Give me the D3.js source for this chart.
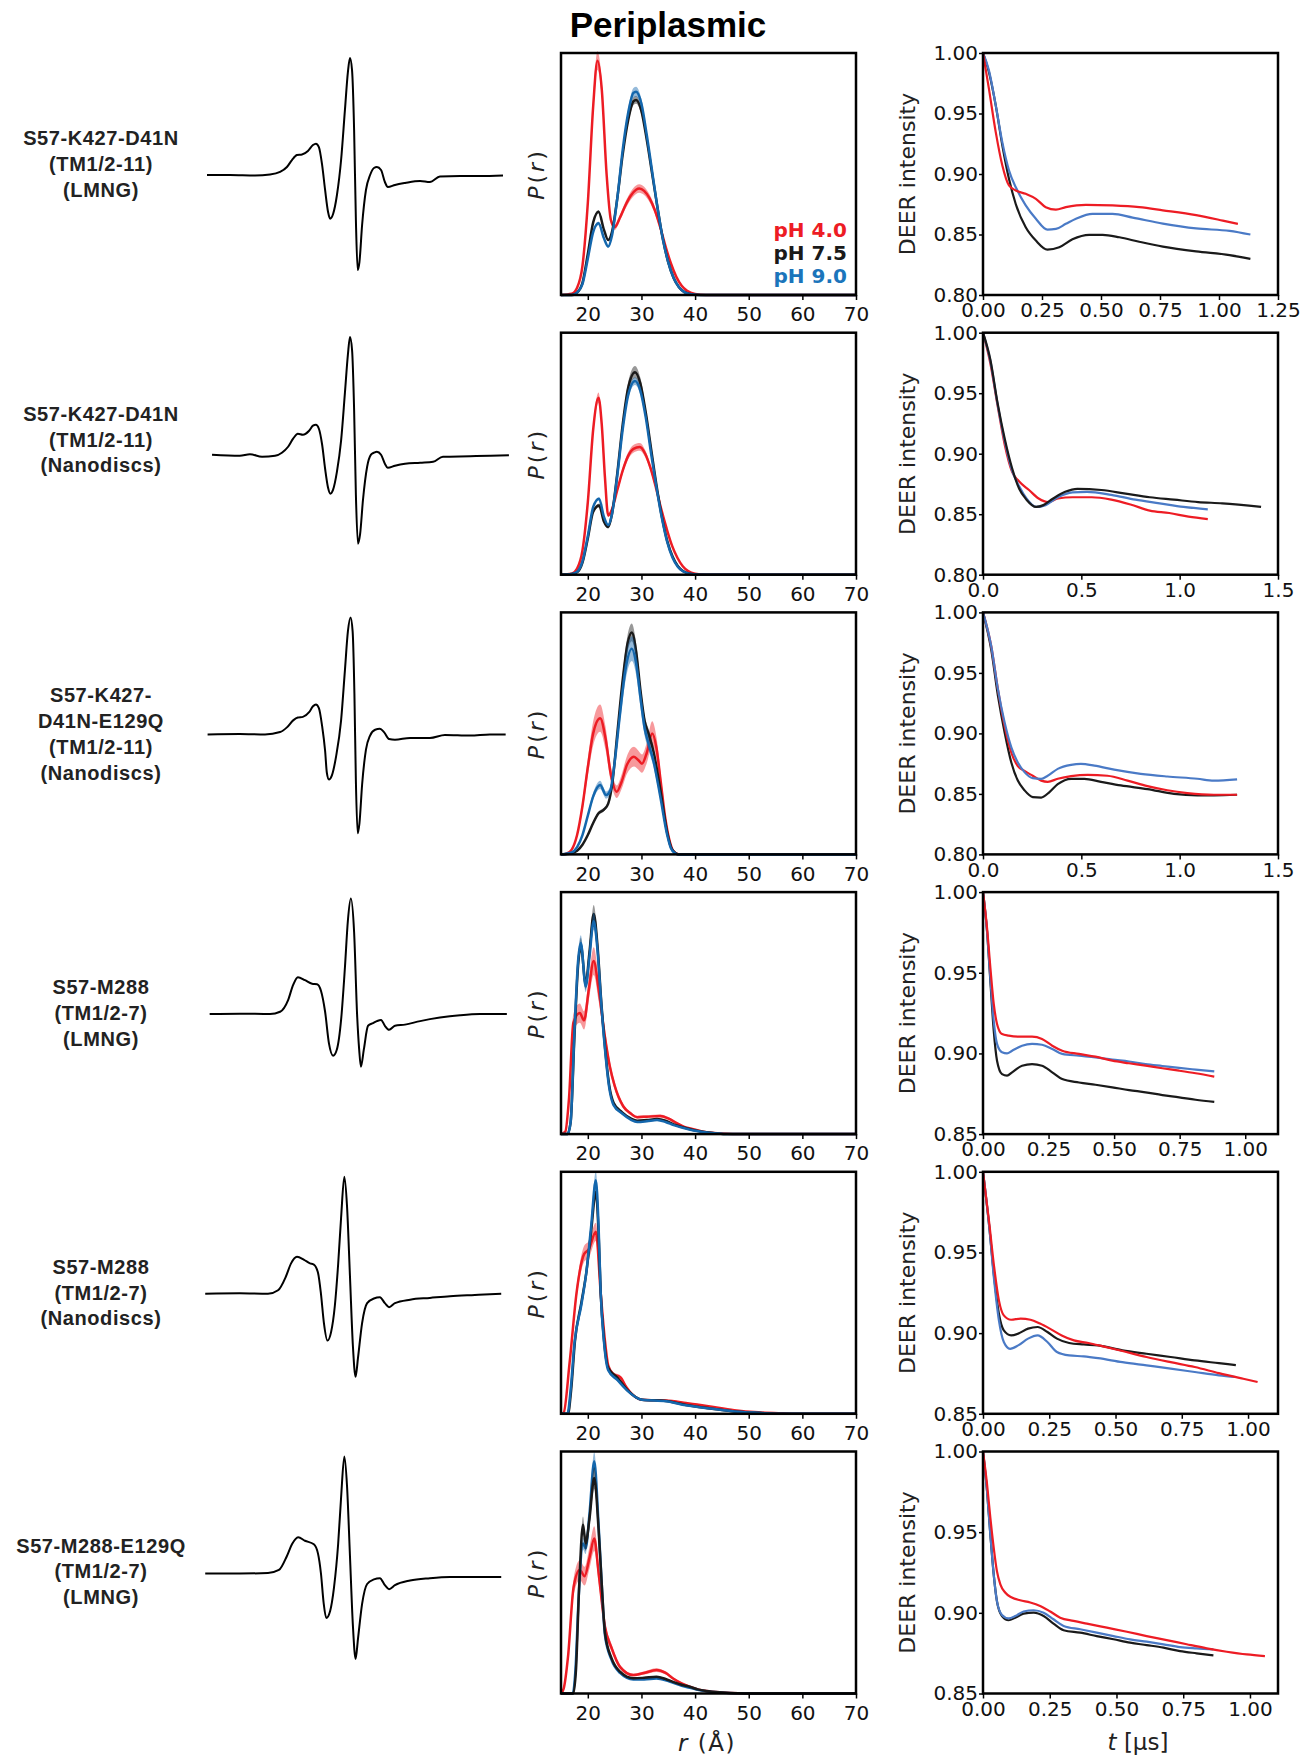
<!DOCTYPE html>
<html lang="en">
<head>
<meta charset="UTF-8">
<title>Periplasmic</title>
<style>
  body { margin: 0; background: #fff; }
  svg { display: block; }
  .tick text { font-family: "DejaVu Sans", sans-serif; font-size: 20px; fill: #111; }
  .tick line { stroke: #000; stroke-width: 1.5; }
</style>
</head>
<body>
<svg id="fig" width="1302" height="1758"></svg>
<script src="https://cdnjs.cloudflare.com/ajax/libs/d3/7.8.5/d3.min.js"></script>
<script>
// ---- row labels ----
var rowLabels = [
  ["S57-K427-D41N", "(TM1/2-11)", "(LMNG)"],
  ["S57-K427-D41N", "(TM1/2-11)", "(Nanodiscs)"],
  ["S57-K427-", "D41N-E129Q", "(TM1/2-11)", "(Nanodiscs)"],
  ["S57-M288", "(TM1/2-7)", "(LMNG)"],
  ["S57-M288", "(TM1/2-7)", "(Nanodiscs)"],
  ["S57-M288-E129Q", "(TM1/2-7)", "(LMNG)"]
];
var phLabels = ["pH 4.0", "pH 7.5", "pH 9.0"];

// ---- cw-EPR spectra: [field (rel. G), normalised amplitude] ----
var epr1 = [[0,0],[7.8,0],[16.2,-0.004],[21.3,0.004],[24.7,0.026],[27,0.068],[28.7,0.128],[30.4,0.171],[32.1,0.175],[34.1,0.205],[35.8,0.256],[36.8,0.268],[37.8,0.239],[38.9,0.085],[39.9,-0.128],[40.9,-0.316],[41.6,-0.373],[42.6,-0.333],[43.9,-0.171],[45.3,0.128],[46.6,0.556],[47.6,0.88],[48.3,1.0],[49,0.897],[49.7,0.385],[50.3,-0.385],[50.9,-0.812],[51.5,-0.744],[52.4,-0.427],[53.7,-0.128],[55.1,0],[56.4,0.06],[57.4,0.068],[58.8,0.043],[60.1,-0.06],[61.1,-0.103],[63.5,-0.085],[66.9,-0.068],[72,-0.051],[75.3,-0.06],[78.7,-0.013],[85.5,-0.009],[92.2,-0.009],[100,-0.004]];
var epr2 = [[1.7,0],[11.1,-0.009],[14.5,0.004],[18.6,-0.017],[23,-0.009],[25.3,0.017],[27.4,0.068],[29.1,0.137],[30.7,0.179],[32.4,0.171],[34.5,0.205],[35.8,0.248],[36.8,0.256],[37.8,0.222],[38.9,0.085],[39.9,-0.12],[40.9,-0.282],[41.7,-0.333],[42.6,-0.299],[43.9,-0.145],[45.3,0.12],[46.6,0.53],[47.6,0.855],[48.3,1.005],[49,0.897],[49.7,0.385],[50.3,-0.342],[51,-0.761],[51.7,-0.684],[52.7,-0.385],[54.1,-0.103],[55.4,0],[56.4,0.017],[57.4,0.026],[58.8,0],[60.1,-0.077],[61.1,-0.111],[63.5,-0.094],[66.9,-0.077],[72,-0.068],[76.4,-0.06],[79.7,-0.017],[88.9,-0.013],[95.6,-0.009],[102,-0.004]];
var epr3 = [[0.2,0],[11.1,0.004],[19.6,0],[24.7,0.02],[27,0.06],[29.1,0.12],[30.7,0.145],[32.4,0.15],[34.5,0.19],[35.8,0.24],[36.8,0.256],[37.8,0.225],[38.9,0.07],[39.9,-0.14],[40.5,-0.33],[41.2,-0.385],[42.2,-0.35],[43.6,-0.19],[45.3,0.12],[46.6,0.55],[47.6,0.88],[48.5,1.0],[49.2,0.88],[49.8,0.35],[50.3,-0.4],[50.9,-0.845],[51.5,-0.76],[52.4,-0.43],[53.7,-0.13],[55.1,-0.01],[56.8,0.04],[58.4,0.048],[59.8,0.02],[61.5,-0.04],[63.5,-0.045],[68.6,-0.03],[75.3,-0.03],[80.4,-0.005],[88.9,-0.01],[95.6,0],[100.9,0]];
var epr4 = [[0.9,0],[11.1,0.004],[21.3,0],[24.7,0.02],[27.4,0.12],[29.1,0.25],[30.7,0.316],[33.1,0.29],[35.5,0.26],[37.2,0.256],[38.5,0.2],[39.9,0.02],[41.2,-0.25],[42.6,-0.355],[43.9,-0.3],[45.3,-0.05],[46.6,0.4],[47.6,0.8],[48.6,0.987],[49.7,0.7],[50.7,0],[51.4,-0.3],[52,-0.45],[53,-0.3],[54.4,-0.1],[56.1,-0.077],[57.4,-0.06],[58.8,-0.05],[60.1,-0.1],[61.5,-0.134],[63.5,-0.1],[66.9,-0.09],[72,-0.06],[78.7,-0.03],[85.5,-0.01],[92.2,0],[101.3,0]];
var epr5 = [[-0.6,0],[11.1,0.004],[20.6,0],[24,0.03],[26.7,0.15],[28.4,0.26],[30.4,0.316],[32.8,0.29],[34.8,0.26],[36.1,0.25],[37.5,0.18],[38.5,0],[39.5,-0.25],[40.7,-0.4],[41.9,-0.33],[43.2,-0.1],[44.3,0.25],[45.3,0.65],[46.4,1.0],[47.3,0.75],[48.3,0.15],[49.3,-0.45],[50.2,-0.71],[51,-0.55],[52.4,-0.25],[54.1,-0.08],[56.4,-0.04],[58.4,-0.03],[60.1,-0.08],[61.5,-0.115],[63.5,-0.08],[68.6,-0.05],[75.3,-0.035],[82.1,-0.02],[90.5,-0.01],[99.4,0]];
var epr6 = [[-0.6,0],[11.1,0],[20.6,0.004],[24.3,0.03],[27,0.15],[28.7,0.25],[30.8,0.31],[33.1,0.28],[36.1,0.25],[37.5,0.17],[38.5,0],[39.4,-0.25],[40.3,-0.38],[41.6,-0.32],[42.9,-0.12],[44.3,0.25],[45.3,0.65],[46.4,1.0],[47.3,0.75],[48.3,0.15],[49.3,-0.45],[50.2,-0.73],[51,-0.56],[52.4,-0.26],[54.1,-0.09],[56.4,-0.05],[58.4,-0.04],[60.1,-0.1],[61.5,-0.134],[63.5,-0.1],[68.6,-0.06],[75.3,-0.04],[82.1,-0.03],[90.5,-0.03],[99.4,-0.03]];

// ---- distance distributions P(r): [r (A), P] ----
var pr1Red = [[15,0],[17,0.005],[18,0.03],[19,0.12],[20,0.38],[21,0.78],[21.8,0.968],[22.6,0.85],[23.5,0.5],[24.3,0.31],[25,0.28],[26,0.32],[27,0.37],[28,0.41],[29,0.435],[29.6,0.44],[30.5,0.43],[31.5,0.4],[32.5,0.35],[33.5,0.28],[34.5,0.2],[35.5,0.13],[36.5,0.075],[37.5,0.038],[38.5,0.017],[40,0.004],[42,0],[70,0]];
var pr1Black = [[15,0],[17,0],[18,0.01],[19,0.05],[20,0.17],[21,0.3],[22,0.344],[23,0.27],[23.8,0.227],[24.5,0.26],[25.5,0.4],[26.5,0.58],[27.5,0.72],[28.5,0.8],[29,0.806],[30,0.76],[31,0.64],[32,0.5],[33,0.36],[34,0.23],[35,0.135],[36,0.07],[37,0.032],[38,0.012],[39,0.004],[41,0],[70,0]];
var pr1Blue = [[15,0],[17,0],[18,0.01],[19,0.045],[20,0.15],[21,0.26],[22,0.296],[23,0.235],[23.8,0.2],[24.5,0.245],[25.5,0.4],[26.5,0.6],[27.5,0.75],[28.5,0.835],[29,0.84],[30,0.79],[31,0.66],[32,0.51],[33,0.36],[34,0.23],[35,0.135],[36,0.07],[37,0.032],[38,0.012],[39,0.004],[41,0],[70,0]];
var pr2Red = [[15,0],[17,0.004],[18,0.025],[19,0.1],[20,0.3],[21,0.6],[22,0.731],[22.6,0.62],[23.2,0.4],[23.8,0.245],[24.5,0.27],[25.5,0.35],[26.5,0.43],[27.5,0.49],[28.5,0.52],[29.7,0.528],[30.7,0.5],[31.7,0.44],[32.7,0.36],[33.7,0.27],[34.7,0.19],[35.7,0.12],[36.7,0.07],[37.7,0.035],[38.7,0.015],[40,0.004],[42,0],[70,0]];
var pr2Black = [[15,0],[17,0.003],[18,0.01],[19,0.05],[20,0.15],[21,0.26],[22.1,0.286],[23,0.22],[23.8,0.197],[24.5,0.25],[25.5,0.42],[26.5,0.62],[27.5,0.77],[28.8,0.837],[29.8,0.79],[30.8,0.67],[31.8,0.52],[32.8,0.37],[33.8,0.24],[34.8,0.14],[35.8,0.075],[36.8,0.035],[37.8,0.014],[39,0.004],[41,0],[70,0]];
var pr2Blue = [[15,0],[17,0.003],[18,0.012],[19,0.055],[20,0.16],[21,0.28],[22.1,0.314],[23,0.24],[23.8,0.205],[24.5,0.25],[25.5,0.41],[26.5,0.6],[27.5,0.74],[28.8,0.8],[29.8,0.76],[30.8,0.65],[31.8,0.5],[32.8,0.36],[33.8,0.235],[34.8,0.135],[35.8,0.07],[36.8,0.032],[37.8,0.013],[39,0.004],[41,0],[70,0]];
var pr3Red = [[15,0],[16,0.003],[17,0.02],[18,0.08],[19,0.2],[20,0.36],[21,0.5],[22.3,0.563],[23.3,0.48],[24.3,0.33],[25.4,0.259],[26.3,0.3],[27.3,0.37],[28.6,0.404],[29.4,0.39],[30.1,0.375],[31,0.42],[32,0.5],[32.8,0.44],[33.6,0.3],[34.4,0.156],[35.2,0.06],[35.9,0.015],[37,0],[70,0]];
var pr3Black = [[15,0],[17,0.005],[18,0.015],[19,0.04],[20,0.08],[21,0.13],[22,0.17],[23,0.185],[23.8,0.21],[24.6,0.3],[25.5,0.5],[26.5,0.72],[27.4,0.87],[28.2,0.917],[29,0.84],[29.8,0.68],[30.6,0.55],[31.3,0.5],[32.3,0.42],[33.5,0.27],[34.8,0.09],[35.5,0.03],[36.2,0.008],[37,0],[70,0]];
var pr3Blue = [[15,0],[17,0.008],[18,0.03],[19,0.08],[20,0.16],[21,0.24],[22.3,0.287],[23.4,0.245],[24.2,0.265],[25,0.38],[26,0.58],[27,0.76],[28.2,0.85],[29,0.79],[29.8,0.65],[30.6,0.52],[31.3,0.46],[32.3,0.38],[33.5,0.24],[34.8,0.08],[35.5,0.025],[36.2,0.006],[37,0],[70,0]];
var pr4Red = [[15,0],[15.8,0.01],[16.5,0.15],[17.3,0.46],[18.5,0.5],[19.3,0.47],[20.2,0.6],[21.1,0.715],[22,0.6],[23.2,0.4],[24.1,0.28],[25,0.2],[26.6,0.115],[28,0.085],[29.2,0.07],[31,0.072],[33.5,0.075],[35,0.065],[36.6,0.045],[38,0.03],[39.7,0.02],[41.5,0.01],[43.5,0.005],[46,0.001],[48,0],[70,0]];
var pr4Black = [[15,0],[16.2,0],[16.8,0.05],[17.5,0.4],[18.2,0.7],[18.7,0.78],[19.6,0.62],[20.3,0.75],[21.1,0.91],[21.8,0.78],[22.5,0.55],[23.2,0.36],[24,0.2],[24.8,0.13],[26.4,0.09],[28,0.065],[29.2,0.055],[31,0.058],[32.9,0.062],[34.5,0.055],[36,0.04],[37.5,0.03],[39.1,0.02],[40.6,0.013],[42.2,0.008],[44,0.003],[46,0],[70,0]];
var pr4Blue = [[15,0],[16.2,0],[16.8,0.05],[17.5,0.42],[18.2,0.72],[18.7,0.79],[19.6,0.61],[20.3,0.73],[21.1,0.88],[21.8,0.76],[22.5,0.54],[23.2,0.35],[24,0.19],[24.8,0.12],[26.4,0.085],[28,0.06],[29.2,0.05],[31,0.053],[32.9,0.058],[34.5,0.05],[36,0.037],[37.5,0.027],[39.1,0.018],[40.6,0.012],[42.2,0.007],[44,0.003],[46,0],[70,0]];
var pr5Red = [[15,0],[15.5,0.005],[16.6,0.21],[17.9,0.5],[19.3,0.66],[20.2,0.68],[21.5,0.752],[22.4,0.5],[23.2,0.3],[23.8,0.2],[24.7,0.165],[26.1,0.15],[27.2,0.11],[28.3,0.08],[30.1,0.058],[32.5,0.056],[34.6,0.055],[38.3,0.045],[42.8,0.03],[47.3,0.015],[51.8,0.006],[56.4,0.002],[60,0],[70,0]];
var pr5Black = [[15,0],[16.3,0],[16.9,0.1],[17.6,0.3],[18.8,0.46],[19.7,0.58],[20.6,0.75],[21.5,0.917],[22,0.75],[22.4,0.5],[23,0.31],[23.8,0.19],[25.5,0.15],[27.3,0.1],[30.1,0.058],[34.6,0.053],[38.3,0.036],[42.8,0.022],[47.3,0.01],[51.8,0.004],[56,0],[70,0]];
var pr5Blue = [[15,0],[16.2,0],[16.8,0.1],[17.5,0.29],[18.8,0.45],[19.7,0.58],[20.6,0.77],[21.5,0.965],[22,0.78],[22.4,0.5],[23,0.3],[23.8,0.18],[25.5,0.14],[27.3,0.097],[30.1,0.058],[34.6,0.052],[38.3,0.035],[42.8,0.022],[47.3,0.01],[51.8,0.004],[56,0],[70,0]];
var pr6Red = [[15,0],[15.5,0.02],[16.3,0.15],[17.35,0.44],[18.5,0.51],[19.4,0.485],[20.3,0.56],[21.2,0.64],[22,0.5],[23.2,0.276],[24.4,0.19],[26,0.11],[28.5,0.076],[30.5,0.085],[32.8,0.097],[34.5,0.085],[35.9,0.062],[37.5,0.042],[39,0.028],[40.5,0.017],[42.1,0.01],[45.2,0.004],[48,0.001],[50,0],[70,0]];
var pr6Black = [[15,0],[17.3,0],[17.8,0.1],[18.4,0.45],[19.1,0.697],[19.6,0.62],[20.3,0.72],[21.2,0.89],[22,0.68],[22.6,0.45],[23.2,0.25],[24.4,0.147],[26,0.09],[28.5,0.063],[30.5,0.065],[32.8,0.069],[34.5,0.06],[35.9,0.048],[37.5,0.036],[39,0.028],[40.5,0.017],[42.1,0.01],[45.2,0.004],[48,0.001],[50,0],[70,0]];
var pr6Blue = [[15,0],[17.2,0],[17.7,0.1],[18.3,0.4],[19.1,0.62],[19.6,0.6],[20.3,0.74],[21.2,0.96],[22,0.7],[22.6,0.45],[23.2,0.24],[24.4,0.14],[26,0.085],[28.5,0.058],[30.5,0.058],[32.8,0.062],[34.5,0.055],[35.9,0.044],[37.5,0.032],[39,0.024],[40.5,0.015],[42.1,0.009],[45.2,0.003],[48,0.001],[50,0],[70,0]];
// relative half-width of the confidence band [red, black, blue]
var prBand = [[0.04,0.02,0.025],[0.03,0.03,0.02],[0.1,0.04,0.06],[0.08,0.04,0.04],[0.05,0.03,0.04],[0.08,0.05,0.04]];
var prTicks = [20, 30, 40, 50, 60, 70];

// ---- DEER traces: [t (us), V] ----
var deer1Red = [[0,1],[0.025,0.9705],[0.054,0.9346],[0.082,0.907],[0.11,0.8905],[0.139,0.8864],[0.181,0.8836],[0.224,0.8795],[0.266,0.8726],[0.309,0.8706],[0.351,0.8726],[0.436,0.8745],[0.549,0.874],[0.662,0.8726],[0.762,0.87],[0.903,0.866],[1.016,0.8615],[1.08,0.8588]];
var deer1Black = [[0,1],[0.025,0.9843],[0.054,0.9567],[0.082,0.9236],[0.11,0.896],[0.139,0.875],[0.181,0.856],[0.224,0.845],[0.273,0.8375],[0.323,0.8394],[0.379,0.846],[0.45,0.8497],[0.507,0.8497],[0.578,0.8477],[0.662,0.844],[0.762,0.84],[0.903,0.836],[1.045,0.833],[1.133,0.8298]];
var deer1Blue = [[0,1],[0.025,0.9857],[0.054,0.9567],[0.082,0.926],[0.11,0.903],[0.139,0.889],[0.181,0.874],[0.224,0.863],[0.273,0.854],[0.309,0.8546],[0.351,0.8588],[0.394,0.863],[0.464,0.867],[0.549,0.867],[0.634,0.864],[0.762,0.859],[0.903,0.855],[1.045,0.853],[1.133,0.85]];
var deer2Red = [[0,1],[0.037,0.975],[0.074,0.94],[0.111,0.907],[0.148,0.885],[0.184,0.877],[0.234,0.87],[0.283,0.863],[0.332,0.86],[0.381,0.863],[0.455,0.864],[0.553,0.864],[0.652,0.862],[0.75,0.858],[0.848,0.853],[0.947,0.851],[1.045,0.848],[1.143,0.846]];
var deer2Black = [[0,1],[0.037,0.978],[0.074,0.942],[0.111,0.912],[0.148,0.888],[0.184,0.871],[0.221,0.862],[0.27,0.856],[0.307,0.8575],[0.357,0.863],[0.418,0.8685],[0.48,0.871],[0.602,0.87],[0.725,0.867],[0.848,0.864],[0.971,0.862],[1.094,0.86],[1.217,0.859],[1.414,0.856]];
var deer2Blue = [[0,1],[0.037,0.977],[0.074,0.941],[0.111,0.91],[0.148,0.886],[0.184,0.873],[0.221,0.863],[0.27,0.856],[0.318,0.8575],[0.381,0.864],[0.455,0.868],[0.529,0.8685],[0.652,0.866],[0.775,0.862],[0.898,0.859],[1.02,0.856],[1.143,0.854]];
var deer3Red = [[0,1],[0.042,0.972],[0.076,0.9364],[0.11,0.906],[0.144,0.884],[0.177,0.873],[0.211,0.869],[0.253,0.865],[0.296,0.861],[0.329,0.86],[0.38,0.8625],[0.448,0.8647],[0.532,0.8658],[0.633,0.865],[0.735,0.861],[0.836,0.8564],[0.937,0.853],[1.039,0.8507],[1.174,0.8493],[1.292,0.8493]];
var deer3Black = [[0,1],[0.042,0.969],[0.076,0.931],[0.11,0.9008],[0.144,0.876],[0.177,0.861],[0.211,0.853],[0.253,0.8474],[0.296,0.847],[0.338,0.8515],[0.38,0.858],[0.448,0.8625],[0.515,0.8625],[0.6,0.86],[0.701,0.857],[0.836,0.854],[0.971,0.85],[1.09,0.8488],[1.174,0.8488],[1.292,0.8493]];
var deer3Blue = [[0,1],[0.042,0.972],[0.076,0.9364],[0.11,0.909],[0.144,0.8885],[0.177,0.876],[0.211,0.868],[0.253,0.863],[0.296,0.8625],[0.329,0.865],[0.38,0.8707],[0.448,0.874],[0.498,0.8748],[0.566,0.8734],[0.667,0.87],[0.802,0.8666],[0.937,0.8644],[1.09,0.8625],[1.174,0.861],[1.292,0.862]];
var deer4Red = [[0,1],[0.0153,0.978],[0.028,0.9534],[0.041,0.9307],[0.0535,0.9183],[0.0726,0.912],[0.098,0.911],[0.136,0.9104],[0.187,0.9104],[0.225,0.909],[0.264,0.9048],[0.302,0.9017],[0.366,0.8997],[0.429,0.898],[0.493,0.8955],[0.557,0.8939],[0.62,0.8924],[0.684,0.8908],[0.748,0.8893],[0.811,0.8877],[0.882,0.8856]];
var deer4Black = [[0,1],[0.0153,0.976],[0.028,0.945],[0.041,0.914],[0.0535,0.8955],[0.0726,0.8872],[0.0917,0.8862],[0.111,0.8883],[0.149,0.8924],[0.187,0.8934],[0.225,0.8924],[0.264,0.8883],[0.302,0.8841],[0.366,0.882],[0.429,0.8806],[0.493,0.879],[0.557,0.8773],[0.62,0.8759],[0.684,0.8742],[0.748,0.8728],[0.811,0.8713],[0.882,0.87]];
var deer4Blue = [[0,1],[0.0153,0.976],[0.028,0.947],[0.041,0.92],[0.0535,0.9059],[0.0726,0.9007],[0.0917,0.9],[0.111,0.9017],[0.149,0.9048],[0.187,0.9059],[0.225,0.9054],[0.264,0.9028],[0.302,0.8997],[0.366,0.8986],[0.429,0.8976],[0.493,0.8962],[0.557,0.895],[0.62,0.8934],[0.684,0.8922],[0.748,0.891],[0.811,0.89],[0.882,0.8889]];
var deer5Red = [[0,1],[0.0237,0.968],[0.042,0.941],[0.06,0.9203],[0.0785,0.911],[0.106,0.9083],[0.142,0.909],[0.179,0.9083],[0.215,0.9059],[0.252,0.9028],[0.297,0.8986],[0.343,0.8955],[0.398,0.8939],[0.453,0.8918],[0.526,0.8889],[0.617,0.8852],[0.708,0.882],[0.799,0.879],[0.89,0.8752],[0.982,0.8717],[1.036,0.8697]];
var deer5Black = [[0,1],[0.0237,0.9659],[0.042,0.9348],[0.06,0.912],[0.0785,0.9017],[0.106,0.8986],[0.133,0.8997],[0.17,0.9028],[0.206,0.9038],[0.243,0.9007],[0.279,0.8966],[0.325,0.8939],[0.38,0.893],[0.434,0.8924],[0.526,0.8893],[0.617,0.8872],[0.708,0.8852],[0.799,0.8831],[0.89,0.8814],[0.954,0.8802]];
var deer5Blue = [[0,1],[0.0237,0.9659],[0.042,0.9328],[0.06,0.9079],[0.0785,0.8945],[0.102,0.8903],[0.133,0.8924],[0.17,0.8966],[0.206,0.8986],[0.243,0.8945],[0.279,0.8883],[0.325,0.8862],[0.38,0.8856],[0.434,0.8845],[0.526,0.882],[0.617,0.88],[0.708,0.878],[0.799,0.8759],[0.89,0.8738],[0.954,0.8728]];
var deer6Red = [[0,1],[0.015,0.9799],[0.0274,0.9592],[0.04,0.9405],[0.052,0.926],[0.065,0.9177],[0.083,0.9126],[0.108,0.9095],[0.139,0.9078],[0.177,0.9064],[0.214,0.9043],[0.252,0.9008],[0.289,0.897],[0.339,0.895],[0.389,0.8933],[0.464,0.8908],[0.539,0.8883],[0.613,0.8856],[0.688,0.8831],[0.763,0.8805],[0.838,0.878],[0.913,0.8759],[0.988,0.8742],[1.056,0.8732]];
var deer6Black = [[0,1],[0.015,0.9758],[0.0274,0.9488],[0.04,0.924],[0.052,0.9074],[0.071,0.898],[0.096,0.8954],[0.121,0.897],[0.152,0.8995],[0.19,0.9001],[0.227,0.898],[0.264,0.8933],[0.302,0.8892],[0.364,0.8877],[0.426,0.8856],[0.489,0.8836],[0.551,0.8815],[0.613,0.88],[0.676,0.8784],[0.738,0.8763],[0.8,0.8749],[0.863,0.8736]];
var deer6Blue = [[0,1],[0.015,0.9758],[0.0274,0.9488],[0.04,0.924],[0.052,0.9074],[0.071,0.8987],[0.096,0.8966],[0.121,0.898],[0.152,0.9008],[0.19,0.9016],[0.227,0.9001],[0.264,0.896],[0.302,0.8919],[0.364,0.8898],[0.426,0.8877],[0.489,0.8856],[0.551,0.8836],[0.613,0.8821],[0.676,0.8805],[0.738,0.8788],[0.8,0.878],[0.863,0.8774]];

var deerTMax = [1.25, 1.5, 1.5, 1.125, 1.113, 1.105];
var deerVMin = [0.80, 0.80, 0.80, 0.85, 0.85, 0.85];
var deerXTicks = [[0,0.25,0.5,0.75,1,1.25],[0,0.5,1,1.5],[0,0.5,1,1.5],[0,0.25,0.5,0.75,1],[0,0.25,0.5,0.75,1],[0,0.25,0.5,0.75,1]];
var deerXFmt = [".2f", ".1f", ".1f", ".2f", ".2f", ".2f"];
var deerYTicks = [[0.80,0.85,0.90,0.95,1.00],[0.80,0.85,0.90,0.95,1.00],[0.80,0.85,0.90,0.95,1.00],[0.85,0.90,0.95,1.00],[0.85,0.90,0.95,1.00],[0.85,0.90,0.95,1.00]];

// ---- layout ----
var ROW0 = 53, ROWSTEP = 279.7, BOXH = 242;
var MID = [561, 856], RIGHT = [983, 1278], EPRX = [207, 503];
var RED = "#ED1C24", BLACK = "#1a1a1a", BLUE_PR = "#1467ad", BLUE_DEER = "#4a7ac6", BLUE_TXT = "#1b75bb";
var labelTop = [92, 88, 90, 102, 102, 101];

var svg = d3.select("#fig");
svg.append("rect").attr("width", 1302).attr("height", 1758).attr("fill", "#fff");

svg.append("text").attr("x", 668).attr("y", 37).attr("text-anchor", "middle")
  .style("font-family", "Liberation Sans, Arial, sans-serif").style("font-weight", "bold")
  .style("font-size", "35px").text("Periplasmic");

var eprRows = [epr1, epr2, epr3, epr4, epr5, epr6];
var prRows = [[pr1Red, pr1Black, pr1Blue], [pr2Red, pr2Black, pr2Blue], [pr3Red, pr3Black, pr3Blue],
              [pr4Red, pr4Black, pr4Blue], [pr5Red, pr5Black, pr5Blue], [pr6Red, pr6Black, pr6Blue]];
var deerRows = [[deer1Red, deer1Black, deer1Blue], [deer2Red, deer2Black, deer2Blue], [deer3Red, deer3Black, deer3Blue],
                [deer4Red, deer4Black, deer4Blue], [deer5Red, deer5Black, deer5Blue], [deer6Red, deer6Black, deer6Blue]];
var prColors = [RED, BLACK, BLUE_PR];
var deerColors = [RED, BLACK, BLUE_DEER];
var prOrder = [[0,1,2],[0,1,2],[0,1,2],[0,1,2],[0,1,2],[0,2,1]];
var deerOrder = [[1,2,0],[0,2,1],[1,0,2],[1,2,0],[1,2,0],[1,2,0]];

var xPr = d3.scaleLinear().domain([15, 70]).range(MID);
var xField = d3.scaleLinear().domain([0, 100]).range(EPRX);

function drawRow(i) {
  var rowY = ROW0 + i * ROWSTEP, rowB = rowY + BOXH;

  // sample name
  var lab = svg.append("text").attr("text-anchor", "middle")
    .style("font-family", "Liberation Sans, Arial, sans-serif").style("font-weight", "bold")
    .style("font-size", "20px").style("letter-spacing", "0.6px").attr("fill", "#222");
  rowLabels[i].forEach(function (s, k) {
    lab.append("tspan").attr("x", 101).attr("y", rowY + labelTop[i] + k * 25.8).text(s);
  });

  // cw-EPR spectrum
  var base = rowY + 122;
  var yAmp = d3.scaleLinear().domain([-1, 1]).range([base + 117, base - 117]);
  svg.append("path").datum(eprRows[i])
    .attr("d", d3.line().x(function (d) { return xField(d[0]); }).y(function (d) { return yAmp(d[1]); }).curve(d3.curveMonotoneX))
    .attr("fill", "none").attr("stroke", "#000").attr("stroke-width", 2);

  // P(r) panel
  var yPr = d3.scaleLinear().domain([0, 1]).range([rowB, rowY]);
  var gp = svg.append("g");
  prOrder[i].forEach(function (s) {
    var k = prBand[i][s];
    gp.append("path").datum(prRows[i][s])
      .attr("d", d3.area().x(function (d) { return xPr(d[0]); })
        .y0(function (d) { return yPr(d[1] * (1 - k)); }).y1(function (d) { return yPr(d[1] * (1 + k)); })
        .curve(d3.curveMonotoneX))
      .attr("fill", prColors[s]).attr("fill-opacity", 0.45);
    gp.append("path").datum(prRows[i][s])
      .attr("d", d3.line().x(function (d) { return xPr(d[0]); }).y(function (d) { return yPr(d[1]); }).curve(d3.curveMonotoneX))
      .attr("fill", "none").attr("stroke", prColors[s]).attr("stroke-width", 2.5);
  });
  svg.append("g").attr("transform", "translate(0," + rowB + ")")
    .call(d3.axisBottom(xPr).tickValues(prTicks).tickSize(5).tickSizeOuter(0).tickPadding(7))
    .call(function (g) { g.select(".domain").remove(); });
  svg.append("rect").attr("x", MID[0]).attr("y", rowY).attr("width", MID[1] - MID[0]).attr("height", BOXH)
    .attr("fill", "none").attr("stroke", "#000").attr("stroke-width", 2.5);
  var pl = svg.append("text").attr("transform", "translate(544," + (rowY + 121) + ") rotate(-90)")
    .attr("text-anchor", "middle").style("font-family", "DejaVu Sans, sans-serif").style("font-size", "22px")
    .style("letter-spacing", "3px").attr("fill", "#222");
  pl.append("tspan").style("font-style", "italic").text("P");
  pl.append("tspan").text("(");
  pl.append("tspan").style("font-style", "italic").text("r");
  pl.append("tspan").text(")");

  // DEER panel
  var xT = d3.scaleLinear().domain([0, deerTMax[i]]).range(RIGHT);
  var yV = d3.scaleLinear().domain([deerVMin[i], 1]).range([rowB, rowY]);
  deerOrder[i].forEach(function (s) {
    svg.append("path").datum(deerRows[i][s])
      .attr("d", d3.line().x(function (d) { return xT(d[0]); }).y(function (d) { return yV(d[1]); }).curve(d3.curveMonotoneX))
      .attr("fill", "none").attr("stroke", deerColors[s]).attr("stroke-width", 2.2);
  });
  svg.append("g").attr("transform", "translate(0," + rowB + ")")
    .call(d3.axisBottom(xT).tickValues(deerXTicks[i]).tickFormat(d3.format(deerXFmt[i])).tickSize(5).tickSizeOuter(0).tickPadding(3))
    .call(function (g) { g.select(".domain").remove(); });
  svg.append("g").attr("transform", "translate(" + RIGHT[0] + ",0)")
    .call(d3.axisLeft(yV).tickValues(deerYTicks[i]).tickFormat(d3.format(".2f")).tickSize(4).tickSizeOuter(0).tickPadding(1))
    .call(function (g) { g.select(".domain").remove(); });
  svg.append("rect").attr("x", RIGHT[0]).attr("y", rowY).attr("width", RIGHT[1] - RIGHT[0]).attr("height", BOXH)
    .attr("fill", "none").attr("stroke", "#000").attr("stroke-width", 2.5);
  svg.append("text").attr("transform", "translate(915," + (rowY + 121) + ") rotate(-90)")
    .attr("text-anchor", "middle").style("font-family", "DejaVu Sans, sans-serif").style("font-size", "22px")
    .attr("fill", "#222").text("DEER intensity");
}

for (var i = 0; i < 6; i++) drawRow(i);

// legend (first P(r) panel)
var legColors = [RED, BLACK, BLUE_TXT];
phLabels.forEach(function (s, k) {
  svg.append("text").attr("x", 847).attr("y", ROW0 + 183.7 + k * 23).attr("text-anchor", "end")
    .style("font-family", "DejaVu Sans, sans-serif").style("font-weight", "bold").style("font-size", "20px")
    .attr("fill", legColors[k]).text(s);
});

// bottom axis titles
var rt = svg.append("text").attr("x", 707).attr("y", 1751).attr("text-anchor", "middle")
  .style("font-family", "DejaVu Sans, sans-serif").style("font-size", "23px").style("letter-spacing", "1.5px").attr("fill", "#222");
rt.append("tspan").style("font-style", "italic").text("r");
rt.append("tspan").text(" (Å)");
var tt = svg.append("text").attr("x", 1138).attr("y", 1750).attr("text-anchor", "middle")
  .style("font-family", "DejaVu Sans, sans-serif").style("font-size", "23px").attr("fill", "#222");
tt.append("tspan").style("font-style", "italic").text("t");
tt.append("tspan").text(" [μs]");
</script>
</body>
</html>
